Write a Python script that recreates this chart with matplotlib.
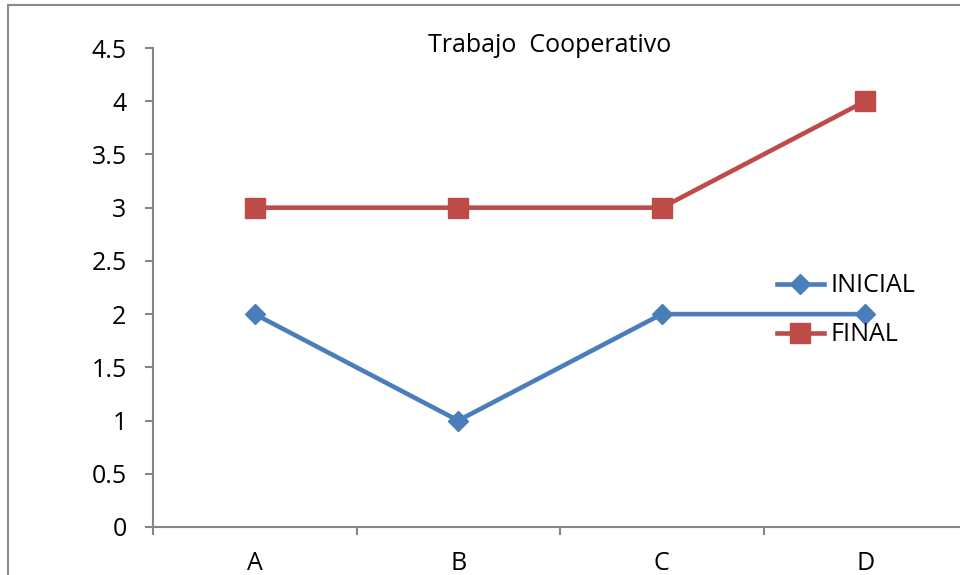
import matplotlib.pyplot as plt
import matplotlib.patches as mpatches

# Datos del gráfico
categorias = ['A', 'B', 'C', 'D']
inicial = [2, 1, 2, 2]
final = [3, 3, 3, 4]
ticks_y = [0, 0.5, 1, 1.5, 2, 2.5, 3, 3.5, 4, 4.5]

plt.rcParams['font.family'] = ['Open Sans', 'DejaVu Sans']
tam = 18

W, H = 960, 575
fig = plt.figure(figsize=(W / 100, H / 100), dpi=100)
ax = fig.add_axes([153 / W, 1 - 527 / H, (967 - 153) / W, (527 - 48) / H])

x = list(range(len(categorias)))
ax.plot(x, inicial, color='#4A7EBB', lw=3.3, marker='D', ms=10,
        mec='#4A7EBB', mfc='#4A7EBB', label='INICIAL', clip_on=False, zorder=3)
ax.plot(x, final, color='#BE4B48', lw=3.3, marker='s', ms=14,
        mec='#BE4B48', mfc='#BE4B48', label='FINAL', clip_on=False, zorder=3)

ax.set_xlim(-0.5, len(categorias) - 0.5)
ax.set_ylim(0, 4.5)
ax.set_yticks(ticks_y)
ax.set_yticklabels([f'{t:g}' for t in ticks_y])
ax.set_xticks(x)
ax.set_xticklabels(categorias)
ax.set_xticks([i - 0.5 for i in range(len(categorias) + 1)], minor=True)

gris = '#868686'
for lado in ['top', 'right']:
    ax.spines[lado].set_visible(False)
for lado in ['left', 'bottom']:
    ax.spines[lado].set_color(gris)
    ax.spines[lado].set_linewidth(1.5)

ax.tick_params(axis='y', length=6, width=1.5, color=gris, labelsize=tam, pad=13)
ax.tick_params(axis='x', which='major', length=0, labelsize=tam, pad=17)
ax.tick_params(axis='x', which='minor', length=6, width=1.5, color=gris)

fig.text(550 / W, 1 - 45 / H, 'Trabajo  Cooperativo', ha='center', va='center', fontsize=tam)

fig.legend(loc='upper left', bbox_to_anchor=(764 / W, 1 - 261 / H), frameon=False,
           fontsize=tam, handlelength=1.9, handletextpad=0.25, labelspacing=0.95,
           borderpad=0)

# Marco del área del gráfico
marco = mpatches.Rectangle((8 / W, -0.1), 1.2, 1.1 - 5 / H, transform=fig.transFigure,
                           fill=False, edgecolor='#8A8A8A', lw=1.5, clip_on=False)
fig.patches.append(marco)

fig.savefig('out.png', dpi=100)
